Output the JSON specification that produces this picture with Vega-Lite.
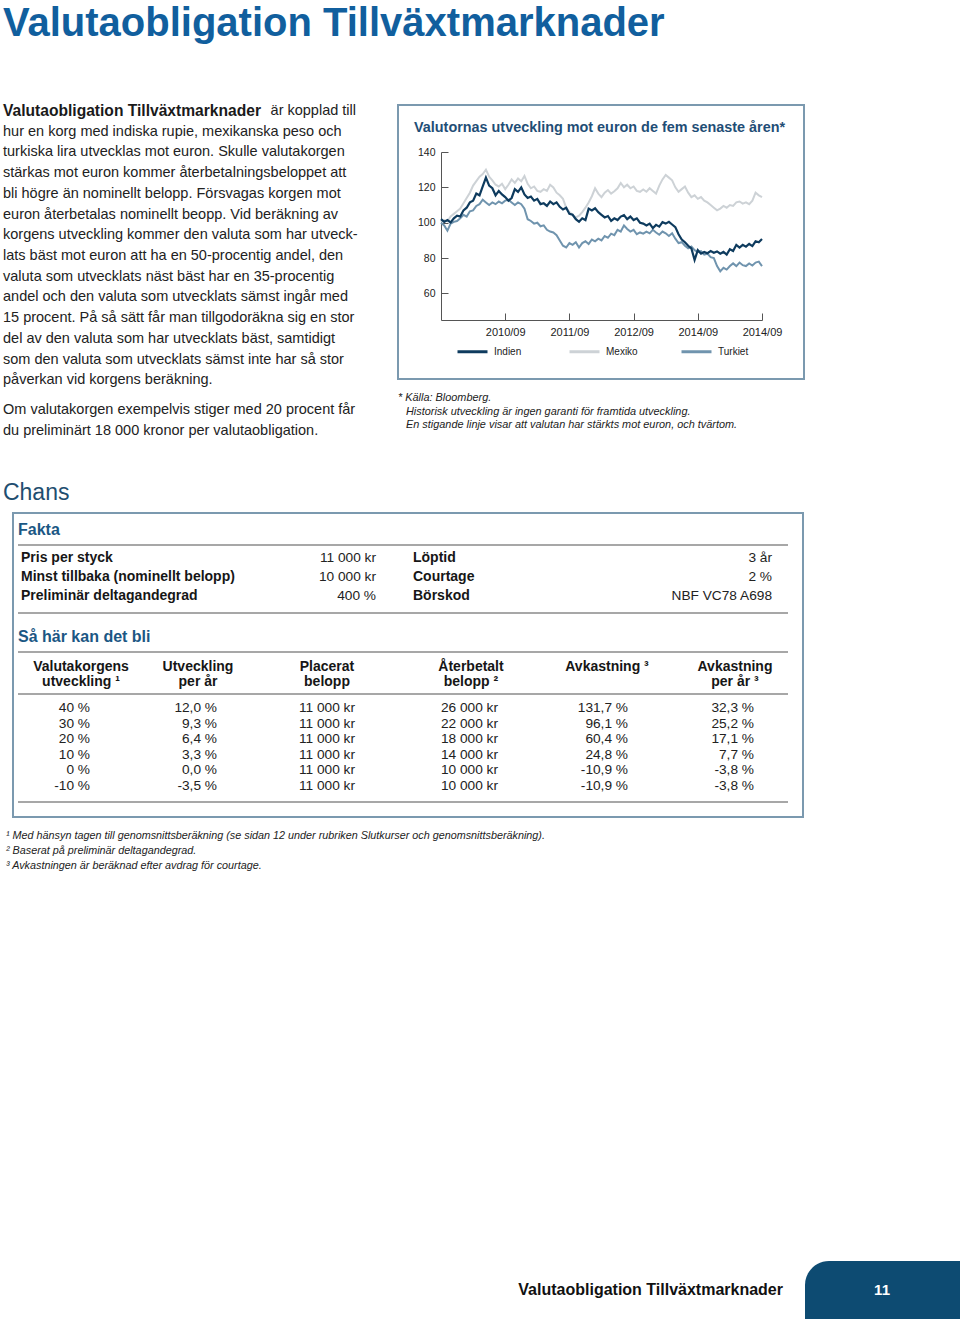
{
  "$schema": "https://vega.github.io/schema/vega-lite/v6.json",
  "width": 960,
  "height": 1319,
  "autosize": "none",
  "padding": 0,
  "background": "white",
  "config": {
    "view": {"stroke": null},
    "font": "Liberation Sans",
    "text": {"font": "Liberation Sans"},
    "axis": {"labelFont": "Liberation Sans"},
    "legend": {"labelFont": "Liberation Sans"}
  },
  "resolve": {
    "scale": {"x": "independent", "y": "independent", "color": "independent"},
    "axis": {"x": "independent", "y": "independent"},
    "legend": {"color": "independent"}
  },
  "layer": [
    {
      "layer": [
        {
          "data": {"values": [{"text": "Valutaobligation Tillväxtmarknader"}]},
          "mark": {"type": "text", "align": "left", "baseline": "middle", "fontSize": 40, "fontWeight": "bold", "color": "#115f9e"},
          "encoding": {
            "x": {"datum": "L", "type": "nominal", "scale": {"type": "point", "domain": ["L", "R"], "range": [3, 356], "padding": 0}, "axis": null},
            "y": {"datum": -4.21, "type": "quantitative", "scale": {"domain": [0, 15.45], "range": [111, 431], "zero": false, "nice": false}, "axis": null},
            "text": {"field": "text"}
          }
        },
        {
          "data": {"values": [{"col": "L", "line": 0, "text": "Valutaobligation Tillväxtmarknader"}]},
          "mark": {"type": "text", "align": "left", "baseline": "middle", "fontSize": 15.6, "fontWeight": "bold", "color": "#1a1a1a"},
          "encoding": {
            "x": {"field": "col", "type": "nominal", "scale": {"type": "point", "domain": ["L", "R"], "range": [3, 356], "padding": 0}, "axis": null},
            "y": {"field": "line", "type": "quantitative", "scale": {"domain": [0, 15.45], "range": [111, 431], "zero": false, "nice": false}, "axis": null},
            "text": {"field": "text"}
          }
        },
        {
          "data": {"values": [{"col": "R", "line": 0, "text": "är kopplad till"}]},
          "mark": {"type": "text", "align": "right", "baseline": "middle", "fontSize": 14.5, "color": "#222222"},
          "encoding": {
            "x": {"field": "col", "type": "nominal", "scale": {"type": "point", "domain": ["L", "R"], "range": [3, 356], "padding": 0}, "axis": null},
            "y": {"field": "line", "type": "quantitative", "scale": {"domain": [0, 15.45], "range": [111, 431], "zero": false, "nice": false}, "axis": null},
            "text": {"field": "text"}
          }
        },
        {
          "data": {"values": [
            {"col": "L", "line": 1, "text": "hur en korg med indiska rupie, mexikanska peso och"},
            {"col": "L", "line": 2, "text": "turkiska lira utvecklas mot euron. Skulle valutakorgen"},
            {"col": "L", "line": 3, "text": "stärkas mot euron kommer återbetalningsbeloppet att"},
            {"col": "L", "line": 4, "text": "bli högre än nominellt belopp. Försvagas korgen mot"},
            {"col": "L", "line": 5, "text": "euron återbetalas nominellt beopp. Vid beräkning av"},
            {"col": "L", "line": 6, "text": "korgens utveckling kommer den valuta som har utveck-"},
            {"col": "L", "line": 7, "text": "lats bäst mot euron att ha en 50-procentig andel, den"},
            {"col": "L", "line": 8, "text": "valuta som utvecklats näst bäst har en 35-procentig"},
            {"col": "L", "line": 9, "text": "andel och den valuta som utvecklats sämst ingår med"},
            {"col": "L", "line": 10, "text": "15 procent. På så sätt får man tillgodoräkna sig en stor"},
            {"col": "L", "line": 11, "text": "del av den valuta som har utvecklats bäst, samtidigt"},
            {"col": "L", "line": 12, "text": "som den valuta som utvecklats sämst inte har så stor"},
            {"col": "L", "line": 13, "text": "påverkan vid korgens beräkning."},
            {"col": "L", "line": 14.45, "text": "Om valutakorgen exempelvis stiger med 20 procent får"},
            {"col": "L", "line": 15.45, "text": "du preliminärt 18 000 kronor per valutaobligation."}
          ]},
          "mark": {"type": "text", "align": "left", "baseline": "middle", "fontSize": 14.5, "color": "#222222"},
          "encoding": {
            "x": {"field": "col", "type": "nominal", "scale": {"type": "point", "domain": ["L", "R"], "range": [3, 356], "padding": 0}, "axis": null},
            "y": {"field": "line", "type": "quantitative", "scale": {"domain": [0, 15.45], "range": [111, 431], "zero": false, "nice": false}, "axis": null},
            "text": {"field": "text"}
          }
        }
      ]
    },
    {
      "data": {"values": [{"text": "Valutornas utveckling mot euron de fem senaste åren*"}]},
      "encoding": {
        "x": {"datum": 0, "type": "quantitative", "scale": {"domain": [0, 1], "range": [398, 804], "zero": false, "nice": false}, "axis": null},
        "y": {"datum": 0, "type": "quantitative", "scale": {"domain": [0, 1], "range": [105, 379], "zero": false, "nice": false}, "axis": null}
      },
      "layer": [
        {
          "mark": {"type": "rect", "filled": false, "stroke": "#7b99af", "strokeWidth": 2},
          "encoding": {"x2": {"datum": 1}, "y2": {"datum": 1}}
        },
        {
          "mark": {"type": "text", "align": "left", "baseline": "middle", "fontSize": 14.4, "fontWeight": "bold", "color": "#1f4e76"},
          "encoding": {
            "x": {"datum": 0.0394, "type": "quantitative"},
            "y": {"datum": 0.083, "type": "quantitative"},
            "text": {"field": "text"}
          }
        }
      ]
    },
    {
      "data": {"values": [
        {"t": 2009.75, "Indien": 102, "Mexiko": 100.5, "Turkiet": 100},
        {"t": 2009.80, "Indien": 100.5, "Mexiko": 101.5, "Turkiet": 98.5},
        {"t": 2009.85, "Indien": 101.5, "Mexiko": 100.8, "Turkiet": 95.5},
        {"t": 2009.90, "Indien": 100.2, "Mexiko": 103.5, "Turkiet": 99.5},
        {"t": 2009.95, "Indien": 102.5, "Mexiko": 105, "Turkiet": 100.5},
        {"t": 2010.00, "Indien": 104, "Mexiko": 106.5, "Turkiet": 101},
        {"t": 2010.05, "Indien": 103.5, "Mexiko": 108, "Turkiet": 102.5},
        {"t": 2010.10, "Indien": 107, "Mexiko": 111, "Turkiet": 104.5},
        {"t": 2010.15, "Indien": 108.5, "Mexiko": 114, "Turkiet": 103.5},
        {"t": 2010.20, "Indien": 111.5, "Mexiko": 117, "Turkiet": 106.5},
        {"t": 2010.25, "Indien": 112.5, "Mexiko": 121, "Turkiet": 107},
        {"t": 2010.30, "Indien": 116.5, "Mexiko": 123.5, "Turkiet": 109.5},
        {"t": 2010.35, "Indien": 115.5, "Mexiko": 126, "Turkiet": 110.5},
        {"t": 2010.40, "Indien": 120.5, "Mexiko": 127.5, "Turkiet": 113},
        {"t": 2010.45, "Indien": 125.5, "Mexiko": 130, "Turkiet": 111.5},
        {"t": 2010.50, "Indien": 121, "Mexiko": 126, "Turkiet": 110},
        {"t": 2010.55, "Indien": 119.5, "Mexiko": 124, "Turkiet": 111.5},
        {"t": 2010.60, "Indien": 115.5, "Mexiko": 121.5, "Turkiet": 110.5},
        {"t": 2010.65, "Indien": 118, "Mexiko": 120.5, "Turkiet": 112},
        {"t": 2010.70, "Indien": 116, "Mexiko": 122, "Turkiet": 111},
        {"t": 2010.75, "Indien": 114.5, "Mexiko": 119, "Turkiet": 112.5},
        {"t": 2010.80, "Indien": 112.5, "Mexiko": 121.5, "Turkiet": 113},
        {"t": 2010.85, "Indien": 114, "Mexiko": 124.5, "Turkiet": 111.5},
        {"t": 2010.90, "Indien": 119, "Mexiko": 122.5, "Turkiet": 110},
        {"t": 2010.95, "Indien": 117.5, "Mexiko": 125, "Turkiet": 111.5},
        {"t": 2011.00, "Indien": 120, "Mexiko": 123.5, "Turkiet": 110.5},
        {"t": 2011.05, "Indien": 116, "Mexiko": 126.5, "Turkiet": 108},
        {"t": 2011.10, "Indien": 114, "Mexiko": 122, "Turkiet": 102},
        {"t": 2011.15, "Indien": 114.8, "Mexiko": 119.5, "Turkiet": 101},
        {"t": 2011.20, "Indien": 112.5, "Mexiko": 120.5, "Turkiet": 99.5},
        {"t": 2011.25, "Indien": 113.5, "Mexiko": 118, "Turkiet": 100},
        {"t": 2011.30, "Indien": 110.5, "Mexiko": 117.5, "Turkiet": 98},
        {"t": 2011.35, "Indien": 111, "Mexiko": 119, "Turkiet": 98.5},
        {"t": 2011.40, "Indien": 109.5, "Mexiko": 118, "Turkiet": 96},
        {"t": 2011.45, "Indien": 112, "Mexiko": 121.5, "Turkiet": 95},
        {"t": 2011.50, "Indien": 110.5, "Mexiko": 120, "Turkiet": 94.5},
        {"t": 2011.55, "Indien": 111.5, "Mexiko": 117, "Turkiet": 93},
        {"t": 2011.60, "Indien": 109, "Mexiko": 115.5, "Turkiet": 90},
        {"t": 2011.65, "Indien": 107.5, "Mexiko": 113.5, "Turkiet": 87},
        {"t": 2011.70, "Indien": 108.5, "Mexiko": 108.5, "Turkiet": 86},
        {"t": 2011.75, "Indien": 105, "Mexiko": 106, "Turkiet": 88.5},
        {"t": 2011.80, "Indien": 104.5, "Mexiko": 104.5, "Turkiet": 87.5},
        {"t": 2011.85, "Indien": 102, "Mexiko": 103, "Turkiet": 89},
        {"t": 2011.90, "Indien": 100.5, "Mexiko": 104, "Turkiet": 86},
        {"t": 2011.95, "Indien": 102.5, "Mexiko": 106, "Turkiet": 88.5},
        {"t": 2012.00, "Indien": 101.5, "Mexiko": 108.5, "Turkiet": 89.5},
        {"t": 2012.05, "Indien": 108, "Mexiko": 111.5, "Turkiet": 88},
        {"t": 2012.10, "Indien": 107, "Mexiko": 115, "Turkiet": 90.5},
        {"t": 2012.15, "Indien": 108.2, "Mexiko": 119.5, "Turkiet": 89.5},
        {"t": 2012.20, "Indien": 106, "Mexiko": 116.5, "Turkiet": 91},
        {"t": 2012.25, "Indien": 104.5, "Mexiko": 114.5, "Turkiet": 90},
        {"t": 2012.30, "Indien": 103, "Mexiko": 117, "Turkiet": 92.5},
        {"t": 2012.35, "Indien": 103.8, "Mexiko": 118.5, "Turkiet": 91.5},
        {"t": 2012.40, "Indien": 101, "Mexiko": 116.5, "Turkiet": 93.8},
        {"t": 2012.45, "Indien": 102.5, "Mexiko": 117.8, "Turkiet": 93},
        {"t": 2012.50, "Indien": 101.5, "Mexiko": 119.5, "Turkiet": 96},
        {"t": 2012.55, "Indien": 103.5, "Mexiko": 122.5, "Turkiet": 95},
        {"t": 2012.60, "Indien": 104.3, "Mexiko": 120, "Turkiet": 98.5},
        {"t": 2012.65, "Indien": 102, "Mexiko": 121.5, "Turkiet": 96.5},
        {"t": 2012.70, "Indien": 103.5, "Mexiko": 119.5, "Turkiet": 95},
        {"t": 2012.75, "Indien": 101.5, "Mexiko": 120.5, "Turkiet": 96},
        {"t": 2012.80, "Indien": 102.5, "Mexiko": 118, "Turkiet": 93.5},
        {"t": 2012.85, "Indien": 100, "Mexiko": 117.5, "Turkiet": 94.5},
        {"t": 2012.90, "Indien": 99.5, "Mexiko": 118.8, "Turkiet": 93.8},
        {"t": 2012.95, "Indien": 98.5, "Mexiko": 117.5, "Turkiet": 95},
        {"t": 2013.00, "Indien": 99.5, "Mexiko": 119.5, "Turkiet": 94},
        {"t": 2013.05, "Indien": 97, "Mexiko": 118, "Turkiet": 96},
        {"t": 2013.10, "Indien": 98.8, "Mexiko": 116.5, "Turkiet": 94.5},
        {"t": 2013.15, "Indien": 97.8, "Mexiko": 121, "Turkiet": 93.2},
        {"t": 2013.20, "Indien": 100.3, "Mexiko": 124.5, "Turkiet": 95},
        {"t": 2013.25, "Indien": 99.5, "Mexiko": 127, "Turkiet": 94},
        {"t": 2013.30, "Indien": 100.5, "Mexiko": 125.5, "Turkiet": 92.5},
        {"t": 2013.35, "Indien": 99, "Mexiko": 124, "Turkiet": 94},
        {"t": 2013.40, "Indien": 97.5, "Mexiko": 120, "Turkiet": 91},
        {"t": 2013.45, "Indien": 93.5, "Mexiko": 117.5, "Turkiet": 88.5},
        {"t": 2013.50, "Indien": 90.5, "Mexiko": 119, "Turkiet": 89},
        {"t": 2013.55, "Indien": 89, "Mexiko": 120.5, "Turkiet": 87},
        {"t": 2013.60, "Indien": 87, "Mexiko": 117, "Turkiet": 85.5},
        {"t": 2013.65, "Indien": 85.5, "Mexiko": 114.5, "Turkiet": 86.5},
        {"t": 2013.70, "Indien": 79, "Mexiko": 115.5, "Turkiet": 84.5},
        {"t": 2013.75, "Indien": 84.5, "Mexiko": 113.5, "Turkiet": 83.5},
        {"t": 2013.80, "Indien": 82.5, "Mexiko": 114.5, "Turkiet": 84},
        {"t": 2013.85, "Indien": 83.5, "Mexiko": 112.5, "Turkiet": 82},
        {"t": 2013.90, "Indien": 82.8, "Mexiko": 111.5, "Turkiet": 82.5},
        {"t": 2013.95, "Indien": 84, "Mexiko": 110, "Turkiet": 80.5},
        {"t": 2014.00, "Indien": 83, "Mexiko": 108.5, "Turkiet": 80},
        {"t": 2014.05, "Indien": 83.8, "Mexiko": 107, "Turkiet": 75.5},
        {"t": 2014.10, "Indien": 82.5, "Mexiko": 108, "Turkiet": 72.5},
        {"t": 2014.15, "Indien": 83.5, "Mexiko": 109.5, "Turkiet": 74.5},
        {"t": 2014.20, "Indien": 82, "Mexiko": 108.5, "Turkiet": 73.5},
        {"t": 2014.25, "Indien": 85, "Mexiko": 110, "Turkiet": 75.5},
        {"t": 2014.30, "Indien": 84, "Mexiko": 109.5, "Turkiet": 77},
        {"t": 2014.35, "Indien": 87.5, "Mexiko": 111.5, "Turkiet": 75.5},
        {"t": 2014.40, "Indien": 86, "Mexiko": 112, "Turkiet": 77.5},
        {"t": 2014.45, "Indien": 87.5, "Mexiko": 110.8, "Turkiet": 76},
        {"t": 2014.50, "Indien": 86.5, "Mexiko": 111.5, "Turkiet": 75.5},
        {"t": 2014.55, "Indien": 88, "Mexiko": 110.5, "Turkiet": 77},
        {"t": 2014.60, "Indien": 86.8, "Mexiko": 112.5, "Turkiet": 75.8},
        {"t": 2014.65, "Indien": 89.5, "Mexiko": 117, "Turkiet": 77.5},
        {"t": 2014.70, "Indien": 89, "Mexiko": 115.5, "Turkiet": 78},
        {"t": 2014.75, "Indien": 90.8, "Mexiko": 114.5, "Turkiet": 75.5}
      ]},
      "transform": [{"fold": ["Mexiko", "Turkiet", "Indien"], "as": ["s", "v"]}],
      "encoding": {
        "x": {
          "field": "t", "type": "quantitative",
          "scale": {"domain": [2009.75, 2014.75], "range": [441, 762], "zero": false, "nice": false},
          "axis": {
            "orient": "bottom", "offset": -999, "title": null, "grid": false,
            "values": [2010.75, 2011.75, 2012.75, 2013.75, 2014.75],
            "labelExpr": "datum.value < 2011 ? '2010/09' : datum.value < 2012 ? '2011/09' : datum.value < 2013 ? '2012/09' : '2014/09'",
            "domainColor": "#555555", "tickColor": "#555555", "tickSize": -7, "labelPadding": 13,
            "labelFontSize": 11, "labelColor": "#222222", "labelFlush": false, "labelOverlap": false
          }
        },
        "y": {
          "field": "v", "type": "quantitative",
          "scale": {"domain": [45, 140], "range": [320, 152], "zero": false, "nice": false},
          "axis": {
            "orient": "left", "offset": -441, "title": null, "grid": false,
            "values": [60, 80, 100, 120, 140],
            "domainColor": "#555555", "tickColor": "#555555", "tickSize": -7, "labelPadding": 13,
            "labelFontSize": 10.5, "labelColor": "#222222", "labelOverlap": false
          }
        },
        "color": {
          "field": "s", "type": "nominal",
          "scale": {"domain": ["Indien", "Mexiko", "Turkiet"], "range": ["#0e3b5e", "#cdd2d6", "#7094ae"]},
          "legend": {
            "orient": "none", "legendX": 456, "legendY": 335, "direction": "horizontal", "title": null,
            "symbolType": "stroke", "symbolSize": 900, "symbolStrokeWidth": 3,
            "labelFontSize": 10, "labelColor": "#222222", "labelOffset": 5,
            "columnPadding": 37, "gridAlign": "all"
          }
        }
      },
      "layer": [
        {"transform": [{"filter": "datum.s == 'Mexiko'"}], "mark": {"type": "line", "strokeWidth": 2}, "encoding": {}},
        {"transform": [{"filter": "datum.s == 'Turkiet'"}], "mark": {"type": "line", "strokeWidth": 2}, "encoding": {}},
        {"transform": [{"filter": "datum.s == 'Indien'"}], "mark": {"type": "line", "strokeWidth": 2.2}, "encoding": {}}
      ]
    },
    {
      "data": {"values": [
        {"ind": 0, "line": 1, "text": "* Källa: Bloomberg."},
        {"ind": 1, "line": 2, "text": "Historisk utveckling är ingen garanti för framtida utveckling."},
        {"ind": 1, "line": 3, "text": "En stigande linje visar att valutan har stärkts mot euron, och tvärtom."}
      ]},
      "mark": {"type": "text", "align": "left", "baseline": "middle", "fontSize": 10.9, "fontStyle": "italic", "color": "#222222"},
      "encoding": {
        "x": {"field": "ind", "type": "quantitative", "scale": {"domain": [0, 1], "range": [398, 406], "zero": false, "nice": false}, "axis": null},
        "y": {"field": "line", "type": "quantitative", "scale": {"domain": [1, 3], "range": [398, 425], "zero": false, "nice": false}, "axis": null},
        "text": {"field": "text"}
      }
    },
    {
      "data": {"values": [{"text": "Chans"}]},
      "encoding": {
        "x": {"datum": 0, "type": "quantitative", "scale": {"domain": [0, 1], "range": [13, 803], "zero": false, "nice": false}, "axis": null},
        "y": {"datum": 0, "type": "quantitative", "scale": {"domain": [0, 1], "range": [513, 817], "zero": false, "nice": false}, "axis": null}
      },
      "layer": [
        {
          "mark": {"type": "rect", "filled": false, "stroke": "#7b99af", "strokeWidth": 2},
          "encoding": {"x2": {"datum": 1}, "y2": {"datum": 1}}
        },
        {
          "mark": {"type": "text", "align": "left", "baseline": "middle", "fontSize": 23, "color": "#1f4e70"},
          "encoding": {
            "x": {"datum": -0.0127, "type": "quantitative"},
            "y": {"datum": -0.066, "type": "quantitative"},
            "text": {"field": "text"}
          }
        }
      ]
    },
    {
      "layer": [
        {
          "data": {"values": [
            {"row": 1, "col": 0, "text": "Pris per styck"},
            {"row": 1, "col": 2, "text": "Löptid"},
            {"row": 2, "col": 0, "text": "Minst tillbaka (nominellt belopp)"},
            {"row": 2, "col": 2, "text": "Courtage"},
            {"row": 3, "col": 0, "text": "Preliminär deltagandegrad"},
            {"row": 3, "col": 2, "text": "Börskod"}
          ]},
          "mark": {"type": "text", "align": "left", "baseline": "middle", "fontSize": 14, "fontWeight": "bold", "color": "#161616"},
          "encoding": {
            "x": {"field": "col", "type": "quantitative", "scale": {"domain": [-1, 0, 1, 2, 3, 4], "range": [18, 21, 376, 413, 772, 788], "zero": false, "nice": false}, "axis": null},
            "y": {"field": "row", "type": "quantitative", "scale": {"domain": [1, 3], "range": [558, 596], "zero": false, "nice": false}, "axis": null},
            "text": {"field": "text"}
          }
        },
        {
          "data": {"values": [
            {"row": 1, "col": 1, "text": "11 000 kr"},
            {"row": 1, "col": 3, "text": "3 år"},
            {"row": 2, "col": 1, "text": "10 000 kr"},
            {"row": 2, "col": 3, "text": "2 %"},
            {"row": 3, "col": 1, "text": "400 %"},
            {"row": 3, "col": 3, "text": "NBF VC78 A698"}
          ]},
          "mark": {"type": "text", "align": "right", "baseline": "middle", "fontSize": 13.7, "color": "#222222"},
          "encoding": {
            "x": {"field": "col", "type": "quantitative", "scale": {"domain": [-1, 0, 1, 2, 3, 4], "range": [18, 21, 376, 413, 772, 788], "zero": false, "nice": false}, "axis": null},
            "y": {"field": "row", "type": "quantitative", "scale": {"domain": [1, 3], "range": [558, 596], "zero": false, "nice": false}, "axis": null},
            "text": {"field": "text"}
          }
        },
        {
          "data": {"values": [{"text": "Fakta"}]},
          "mark": {"type": "text", "align": "left", "baseline": "middle", "fontSize": 16, "fontWeight": "bold", "color": "#1b5784"},
          "encoding": {
            "x": {"datum": -1, "type": "quantitative", "scale": {"domain": [-1, 0, 1, 2, 3, 4], "range": [18, 21, 376, 413, 772, 788], "zero": false, "nice": false}, "axis": null},
            "y": {"datum": -0.47, "type": "quantitative", "scale": {"domain": [1, 3], "range": [558, 596], "zero": false, "nice": false}, "axis": null},
            "text": {"field": "text"}
          }
        },
        {
          "data": {"values": [{"edge": "top"}, {"edge": "bottom"}]},
          "mark": {"type": "rule", "color": "#8a8a8a", "strokeWidth": 1.5},
          "encoding": {
            "x": {"datum": -1, "type": "quantitative", "scale": {"domain": [-1, 0, 1, 2, 3, 4], "range": [18, 21, 376, 413, 772, 788], "zero": false, "nice": false}, "axis": null},
            "x2": {"datum": 4},
            "y": {"field": "edge", "type": "nominal", "scale": {"type": "point", "domain": ["top", "bottom"], "range": [545, 613], "padding": 0}, "axis": null}
          }
        }
      ]
    },
    {
      "data": {"values": [
        {"col": 1, "line": 1, "text": "Valutakorgens"},
        {"col": 1, "line": 2, "text": "utveckling ¹"},
        {"col": 2, "line": 1, "text": "Utveckling"},
        {"col": 2, "line": 2, "text": "per år"},
        {"col": 3, "line": 1, "text": "Placerat"},
        {"col": 3, "line": 2, "text": "belopp"},
        {"col": 4, "line": 1, "text": "Återbetalt"},
        {"col": 4, "line": 2, "text": "belopp ²"},
        {"col": 5, "line": 1, "text": "Avkastning ³"},
        {"col": 6, "line": 1, "text": "Avkastning"},
        {"col": 6, "line": 2, "text": "per år ³"}
      ]},
      "mark": {"type": "text", "align": "center", "baseline": "middle", "fontSize": 14, "fontWeight": "bold", "color": "#161616"},
      "encoding": {
        "x": {"field": "col", "type": "quantitative", "scale": {"domain": [1, 2, 3, 4, 5, 6], "range": [81, 198, 327, 471, 607, 735], "zero": false, "nice": false}, "axis": null},
        "y": {"field": "line", "type": "quantitative", "scale": {"domain": [1, 2], "range": [667, 682], "zero": false, "nice": false}, "axis": null},
        "text": {"field": "text"}
      }
    },
    {
      "layer": [
        {
          "data": {"values": [
            {"row": 1, "col": 1, "text": "40 %"}, {"row": 1, "col": 2, "text": "12,0 %"}, {"row": 1, "col": 3, "text": "11 000 kr"}, {"row": 1, "col": 4, "text": "26 000 kr"}, {"row": 1, "col": 5, "text": "131,7 %"}, {"row": 1, "col": 6, "text": "32,3 %"},
            {"row": 2, "col": 1, "text": "30 %"}, {"row": 2, "col": 2, "text": "9,3 %"}, {"row": 2, "col": 3, "text": "11 000 kr"}, {"row": 2, "col": 4, "text": "22 000 kr"}, {"row": 2, "col": 5, "text": "96,1 %"}, {"row": 2, "col": 6, "text": "25,2 %"},
            {"row": 3, "col": 1, "text": "20 %"}, {"row": 3, "col": 2, "text": "6,4 %"}, {"row": 3, "col": 3, "text": "11 000 kr"}, {"row": 3, "col": 4, "text": "18 000 kr"}, {"row": 3, "col": 5, "text": "60,4 %"}, {"row": 3, "col": 6, "text": "17,1 %"},
            {"row": 4, "col": 1, "text": "10 %"}, {"row": 4, "col": 2, "text": "3,3 %"}, {"row": 4, "col": 3, "text": "11 000 kr"}, {"row": 4, "col": 4, "text": "14 000 kr"}, {"row": 4, "col": 5, "text": "24,8 %"}, {"row": 4, "col": 6, "text": "7,7 %"},
            {"row": 5, "col": 1, "text": "0 %"}, {"row": 5, "col": 2, "text": "0,0 %"}, {"row": 5, "col": 3, "text": "11 000 kr"}, {"row": 5, "col": 4, "text": "10 000 kr"}, {"row": 5, "col": 5, "text": "-10,9 %"}, {"row": 5, "col": 6, "text": "-3,8 %"},
            {"row": 6, "col": 1, "text": "-10 %"}, {"row": 6, "col": 2, "text": "-3,5 %"}, {"row": 6, "col": 3, "text": "11 000 kr"}, {"row": 6, "col": 4, "text": "10 000 kr"}, {"row": 6, "col": 5, "text": "-10,9 %"}, {"row": 6, "col": 6, "text": "-3,8 %"}
          ]},
          "mark": {"type": "text", "align": "right", "baseline": "middle", "fontSize": 13.7, "color": "#222222"},
          "encoding": {
            "x": {"field": "col", "type": "quantitative", "scale": {"domain": [0, 1, 2, 3, 4, 5, 6, 7], "range": [18, 90, 217, 355, 498, 628, 754, 788], "zero": false, "nice": false}, "axis": null},
            "y": {"field": "row", "type": "quantitative", "scale": {"domain": [1, 6], "range": [708, 785.5], "zero": false, "nice": false}, "axis": null},
            "text": {"field": "text"}
          }
        },
        {
          "data": {"values": [{"text": "Så här kan det bli"}]},
          "mark": {"type": "text", "align": "left", "baseline": "middle", "fontSize": 16, "fontWeight": "bold", "color": "#1b5784"},
          "encoding": {
            "x": {"datum": 0, "type": "quantitative", "scale": {"domain": [0, 1, 2, 3, 4, 5, 6, 7], "range": [18, 90, 217, 355, 498, 628, 754, 788], "zero": false, "nice": false}, "axis": null},
            "y": {"datum": -3.55, "type": "quantitative", "scale": {"domain": [1, 6], "range": [708, 785.5], "zero": false, "nice": false}, "axis": null},
            "text": {"field": "text"}
          }
        },
        {
          "data": {"values": [{}]},
          "mark": {"type": "rule", "color": "#8a8a8a", "strokeWidth": 1.5},
          "encoding": {
            "x": {"datum": 0, "type": "quantitative", "scale": {"domain": [0, 1, 2, 3, 4, 5, 6, 7], "range": [18, 90, 217, 355, 498, 628, 754, 788], "zero": false, "nice": false}, "axis": null},
            "x2": {"datum": 7},
            "y": {"datum": -2.613, "type": "quantitative", "scale": {"domain": [1, 6], "range": [708, 785.5], "zero": false, "nice": false}, "axis": null}
          }
        },
        {
          "data": {"values": [{}]},
          "mark": {"type": "rule", "color": "#8a8a8a", "strokeWidth": 1.5},
          "encoding": {
            "x": {"datum": 0, "type": "quantitative", "scale": {"domain": [0, 1, 2, 3, 4, 5, 6, 7], "range": [18, 90, 217, 355, 498, 628, 754, 788], "zero": false, "nice": false}, "axis": null},
            "x2": {"datum": 7},
            "y": {"datum": 0.097, "type": "quantitative", "scale": {"domain": [1, 6], "range": [708, 785.5], "zero": false, "nice": false}, "axis": null}
          }
        },
        {
          "data": {"values": [{}]},
          "mark": {"type": "rule", "color": "#8a8a8a", "strokeWidth": 1.5},
          "encoding": {
            "x": {"datum": 0, "type": "quantitative", "scale": {"domain": [0, 1, 2, 3, 4, 5, 6, 7], "range": [18, 90, 217, 355, 498, 628, 754, 788], "zero": false, "nice": false}, "axis": null},
            "x2": {"datum": 7},
            "y": {"datum": 7.065, "type": "quantitative", "scale": {"domain": [1, 6], "range": [708, 785.5], "zero": false, "nice": false}, "axis": null}
          }
        }
      ]
    },
    {
      "data": {"values": [
        {"line": 1, "text": "¹ Med hänsyn tagen till genomsnittsberäkning (se sidan 12 under rubriken Slutkurser och genomsnittsberäkning)."},
        {"line": 2, "text": "² Baserat på preliminär deltagandegrad."},
        {"line": 3, "text": "³ Avkastningen är beräknad efter avdrag för courtage."}
      ]},
      "mark": {"type": "text", "align": "left", "baseline": "middle", "fontSize": 10.8, "fontStyle": "italic", "color": "#222222"},
      "encoding": {
        "x": {"datum": 0, "type": "quantitative", "scale": {"domain": [0, 1], "range": [6, 7], "zero": false, "nice": false}, "axis": null},
        "y": {"field": "line", "type": "quantitative", "scale": {"domain": [1, 3], "range": [836, 866], "zero": false, "nice": false}, "axis": null},
        "text": {"field": "text"}
      }
    },
    {
      "data": {"values": [{"page": "11", "text": "Valutaobligation Tillväxtmarknader"}]},
      "encoding": {
        "x": {"datum": 0, "type": "quantitative", "scale": {"domain": [0, 1], "range": [805, 960], "zero": false, "nice": false}, "axis": null},
        "y": {"datum": 0, "type": "quantitative", "scale": {"domain": [0, 1], "range": [1261, 1319], "zero": false, "nice": false}, "axis": null}
      },
      "layer": [
        {
          "mark": {"type": "rect", "color": "#0d4b72", "cornerRadiusTopLeft": 24},
          "encoding": {"x2": {"datum": 1}, "y2": {"datum": 1}}
        },
        {
          "mark": {"type": "text", "align": "center", "baseline": "middle", "fontSize": 15, "fontWeight": "bold", "color": "white"},
          "encoding": {
            "x": {"datum": 0.497, "type": "quantitative"},
            "y": {"datum": 0.5, "type": "quantitative"},
            "text": {"field": "page"}
          }
        },
        {
          "mark": {"type": "text", "align": "right", "baseline": "middle", "fontSize": 16, "fontWeight": "bold", "color": "#111111"},
          "encoding": {
            "x": {"datum": -0.142, "type": "quantitative"},
            "y": {"datum": 0.5, "type": "quantitative"},
            "text": {"field": "text"}
          }
        }
      ]
    }
  ]
}
